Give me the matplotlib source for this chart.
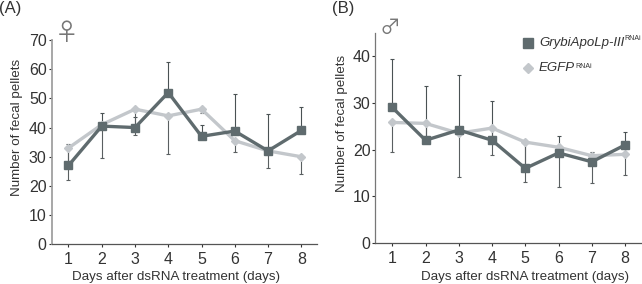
import numpy as np
import matplotlib
matplotlib.use("Agg")
import matplotlib.pyplot as plt

plt.rcParams['font.family'] = ['Liberation Sans', 'DejaVu Sans']

days = [1, 2, 3, 4, 5, 6, 7, 8]

# Panel A, female
a_rnai = [27, 40.5, 40, 52, 37, 38.8, 32, 39]
a_rnai_hi = [34.5, 45, 43.5, 62.3, 41, 51.5, 44.8, 47]
a_egfp = [33, 41, 46.3, 44, 46.3, 35.5, 32, 30]
a_egfp_lo = [22, 29.5, 37.5, 31, 45, 31.5, 26, 24]

# Panel B, male
b_rnai = [29, 22, 24.2, 22, 16, 19.3, 17.4, 21]
b_rnai_hi = [39.3, 33.5, 36, 30.3, 22, 23, 19.5, 23.7]
b_egfp = [25.8, 25.6, 23.5, 24.6, 21.6, 20.5, 18.7, 19]
b_egfp_lo = [19.5, 22, 14.2, 18.8, 13.1, 12, 12.9, 14.5]

DARK = '#5f6b6e'
LIGHT = '#c3c7cb'
TEXT = '#333333'
W, H = 642, 284


def draw_panel(ax, rnai, rnai_hi, egfp, egfp_lo, spine_col, spine_w):
    # error bars go from the mean up for one group and down for the other
    for x, y, hi in zip(days, rnai, rnai_hi):
        ax.errorbar(x, y, yerr=[[0], [hi - y]], color='#4a5254', lw=0.8, capsize=1.5, capthick=0.8, zorder=2)
    for x, y, lo in zip(days, egfp, egfp_lo):
        ax.errorbar(x, y, yerr=[[y - lo], [0]], color='#5a5f61', lw=0.8, capsize=1.5, capthick=0.8, zorder=2)

    ax.plot(days, egfp, color=LIGHT, lw=2.4, marker='D', ms=4.2, zorder=3)
    ax.plot(days, rnai, color=DARK, lw=2.4, marker='s', ms=6.2, zorder=4)

    ax.spines['top'].set_visible(False)
    ax.spines['right'].set_visible(False)
    ax.spines['left'].set_color(spine_col)
    ax.spines['left'].set_linewidth(spine_w)
    ax.spines['bottom'].set_color('#555555')
    ax.spines['bottom'].set_linewidth(0.9)
    ax.set_xticks(days)
    ax.tick_params(axis='both', labelsize=11.5, colors=TEXT, length=2, width=0.8)
    ax.tick_params(axis='x', pad=3.5)
    ax.tick_params(axis='y', pad=1.5)


def place(fig, left, right, top, bottom):
    return fig.add_axes([left / W, (H - bottom) / H, (right - left) / W, (bottom - top) / H])


fig = plt.figure(figsize=(6.42, 2.84), dpi=100)

ax_a = place(fig, 51.5, 317, 40, 244.3)
draw_panel(ax_a, a_rnai, a_rnai_hi, a_egfp, a_egfp_lo, '#a0a0a0', 1.3)
ax_a.set_xlim(0.489, 8.472)
ax_a.set_ylim(0, 70)
ax_a.set_yticks([0, 10, 20, 30, 40, 50, 60, 70])

ax_b = place(fig, 375.3, 641.7, 33, 243.3)
draw_panel(ax_b, b_rnai, b_rnai_hi, b_egfp, b_egfp_lo, '#777777', 0.9)
ax_b.set_xlim(0.489, 8.5)
ax_b.set_ylim(0, 44.9)
ax_b.set_yticks([0, 10, 20, 30, 40])

# axis titles placed by hand, they are not centred on the axes in the original
fig.text(176.5 / W, 1 - 277 / H, "Days after dsRNA treatment (days)", fontsize=9.6, color=TEXT, ha='center', va='center')
fig.text(525 / W, 1 - 277 / H, "Days after dsRNA treatment (days)", fontsize=9.6, color=TEXT, ha='center', va='center')
fig.text(17 / W, 1 - 127.5 / H, "Number of fecal pellets", fontsize=9.6, color=TEXT, rotation=90, ha='center', va='center')
fig.text(342 / W, 1 - 123 / H, "Number of fecal pellets", fontsize=9.6, color=TEXT, rotation=90, ha='center', va='center')

# panel letters and sex symbols
fig.text(-1 / W, 1 - 9 / H, "(A)", fontsize=12, color=TEXT, va='center')
fig.text(332 / W, 1 - 8 / H, "(B)", fontsize=12, color=TEXT, va='center')
fig.text(66.7 / W, 1 - 33.5 / H, "\u2640", fontsize=17, color='#777777', ha='center', va='center', family=['Noto Sans CJK JP', 'DejaVu Sans'])
fig.text(390.5 / W, 1 - 27.5 / H, "\u2642", fontsize=15, color='#777777', ha='center', va='center', family=['Noto Sans CJK JP', 'DejaVu Sans'])

# legend by hand, the superscript does not fit a normal legend
fig.add_artist(plt.Line2D([527.5 / W], [1 - 42.5 / H], marker='s', ms=7.5, color=DARK, ls=''))
fig.add_artist(plt.Line2D([527.5 / W], [1 - 67.5 / H], marker='D', ms=5.2, color=LIGHT, ls=''))
fig.text(539 / W, 1 - 43 / H, "GrybiApoLp-III", fontsize=9.5, style='italic', color=TEXT, va='center')
fig.text(624.8 / W, 1 - 39 / H, "RNAi", fontsize=5, color=TEXT, va='center')
fig.text(539 / W, 1 - 68 / H, "EGFP", fontsize=9.5, style='italic', color=TEXT, va='center')
fig.text(575.5 / W, 1 - 66 / H, "RNAi", fontsize=5, color=TEXT, va='center')

plt.savefig("out.png", dpi=100)
